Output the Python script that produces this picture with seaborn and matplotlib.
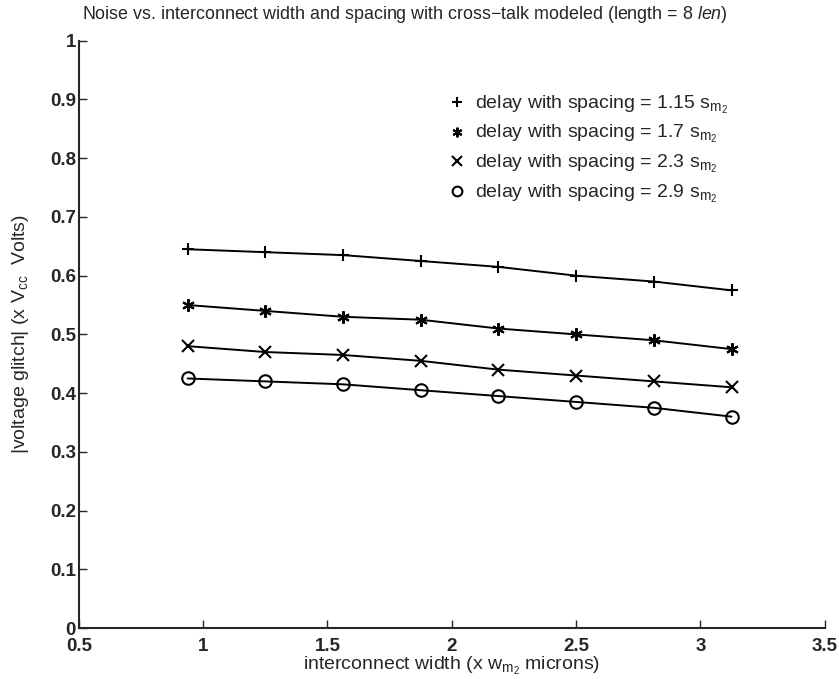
import matplotlib
matplotlib.use("Agg")
import matplotlib.pyplot as plt
from matplotlib.lines import Line2D
import seaborn as sns

# --- data ---
width = [0.9375, 1.25, 1.5625, 1.875, 2.1875, 2.5, 2.8125, 3.125]
spacing_labels = ["1.15", "1.7", "2.3", "2.9"]
glitch_115 = [0.645, 0.640, 0.635, 0.625, 0.615, 0.600, 0.590, 0.575]
glitch_17 = [0.550, 0.540, 0.530, 0.525, 0.510, 0.500, 0.490, 0.475]
glitch_23 = [0.480, 0.470, 0.465, 0.455, 0.440, 0.430, 0.420, 0.410]
glitch_29 = [0.425, 0.420, 0.415, 0.405, 0.395, 0.385, 0.375, 0.360]

x_ticks = [0.5, 1, 1.5, 2, 2.5, 3, 3.5]
x_tick_labels = ["0.5", "1", "1.5", "2", "2.5", "3", "3.5"]
y_ticks = [0, 0.1, 0.2, 0.3, 0.4, 0.5, 0.6, 0.7, 0.8, 0.9, 1]
y_tick_labels = ["0", "0.1", "0.2", "0.3", "0.4", "0.5", "0.6", "0.7", "0.8", "0.9", "1"]

markers = ["+", (6, 2, 0), "x", "o"]

sns.set_style("ticks")
plt.rcParams["font.family"] = ["Liberation Sans", "DejaVu Sans"]
plt.rcParams["mathtext.fontset"] = "custom"
plt.rcParams["mathtext.rm"] = "Liberation Sans"
plt.rcParams["mathtext.it"] = "Liberation Sans:italic"
plt.rcParams["mathtext.bf"] = "Liberation Sans:bold"

fig = plt.figure(figsize=(8.39, 6.79), dpi=100)
ax = fig.add_axes([0.094, 0.075, 0.889, 0.865])

for ys, m in zip([glitch_115, glitch_17, glitch_23, glitch_29], markers):
    sns.lineplot(x=width, y=ys, color="black", marker=m, markersize=9,
                 markeredgewidth=1.5, markerfacecolor="none", markeredgecolor="black",
                 linewidth=1.4, ax=ax)

ax.set_xlim(0.5, 3.5)
ax.set_ylim(0, 1)
ax.set_xticks(x_ticks)
ax.set_xticklabels(x_tick_labels, fontsize=13.5, fontweight="bold")
ax.set_yticks(y_ticks)
ax.set_yticklabels(y_tick_labels, fontsize=13.5, fontweight="bold")
ax.tick_params(direction="in", length=6, width=1)
ax.yaxis.set_tick_params(pad=2)
ax.xaxis.set_tick_params(pad=7)
for side in ["left", "bottom"]:
    ax.spines[side].set_linewidth(1.5)
sns.despine(ax=ax)

ax.set_xlabel(r"interconnect width (x w$_{\mathregular{m_2}}$ microns)", fontsize=14, labelpad=0)
ax.set_ylabel(r"|voltage glitch| (x V$_{\mathregular{cc}}$  Volts)", fontsize=14, labelpad=14)
fig.text(0.483, 0.978, r"Noise vs. interconnect width and spacing with cross$-$talk modeled (length = 8 $\it{len}$)",
         fontsize=12.9, ha="center", va="center")

handles = [Line2D([], [], linestyle="none", marker=m, color="black", markersize=7,
                  markerfacecolor="none", markeredgewidth=1.5) for m in markers]
labels = [rf"delay with spacing = {s} s$_{{\mathregular{{m_2}}}}$" for s in spacing_labels]
ax.legend(handles, labels, loc="upper left", bbox_to_anchor=(0.475, 0.94), frameon=False,
          fontsize=14, handlelength=0.7, handletextpad=0.55, labelspacing=0.4)

fig.savefig("out.png", dpi=100)
